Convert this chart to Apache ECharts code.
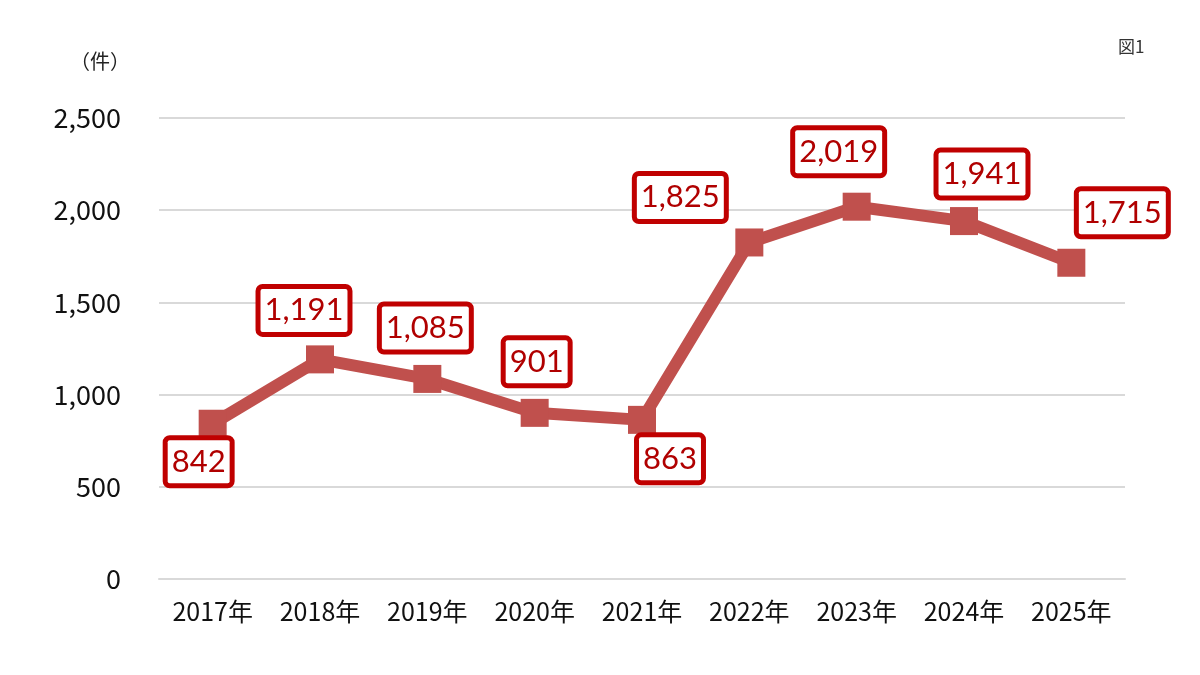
<!DOCTYPE html>
<html><head><meta charset="utf-8">
<script src="https://cdn.jsdelivr.net/npm/echarts@6/dist/echarts.min.js"></script>
<style>html,body{margin:0;padding:0;background:#fff}#c{width:1200px;height:675px}</style>
</head><body><div id="c"></div>
<script>
const categories = ['2017年','2018年','2019年','2020年','2021年','2022年','2023年','2024年','2025年'];
const values = [842, 1191, 1085, 901, 863, 1825, 2019, 1941, 1715];
const yTicks = [0, 500, 1000, 1500, 2000, 2500];
const unitLabel = '（件）';
const figLabel = '図1';
// label placement (style only)
const labelOffsets = [[-14,38],[-16,-49],[-2,-51],[2,-51],[28,39],[-69,-45],[-18,-55],[18,-47],[51,-50]];

const fmt = v => Number(v).toLocaleString('en-US');
const axisFont = '"Noto Sans CJK JP"';
const chart = echarts.init(document.getElementById('c'));
chart.setOption({
  animation:false,
  backgroundColor:'#fff',
  grid:{left:159,right:75,top:118,bottom:96},
  graphic:[
    {type:'text',left:70,top:51,style:{text:unitLabel,font:'20px "Noto Sans CJK JP"',fill:'#222'}},
    {type:'text',left:1118,top:38,style:{text:figLabel,font:'17px "Noto Sans CJK JP"',fill:'#333'}}
  ],
  xAxis:{type:'category',data:categories,boundaryGap:true,
    axisLine:{show:true,lineStyle:{color:'#D9D9D9',width:2}},
    axisTick:{show:false},
    axisLabel:{interval:0,color:'#111',fontSize:25,margin:20,fontFamily:axisFont}},
  yAxis:{type:'value',min:yTicks[0],max:yTicks[yTicks.length-1],interval:500,
    axisLine:{show:false},axisTick:{show:false},
    splitLine:{lineStyle:{color:'#D9D9D9',width:2}},
    axisLabel:{color:'#111',fontSize:27,margin:38,fontFamily:axisFont,formatter:v=>fmt(v)}},
  series:[{type:'line',
    data:values.map((v,i)=>({value:v,label:{offset:labelOffsets[i]}})),
    symbol:'rect',symbolSize:28,
    lineStyle:{color:'#C0504D',width:12},
    itemStyle:{color:'#C0504D'},
    label:{show:true,position:'inside',formatter:p=>fmt(p.value),
      fontFamily:'Lato',fontSize:31,color:'#B00000',
      backgroundColor:'#fff',borderColor:'#C00000',borderWidth:5,borderRadius:2,
      padding:[7,4,5,4]}
  }]
});
</script></body></html>
